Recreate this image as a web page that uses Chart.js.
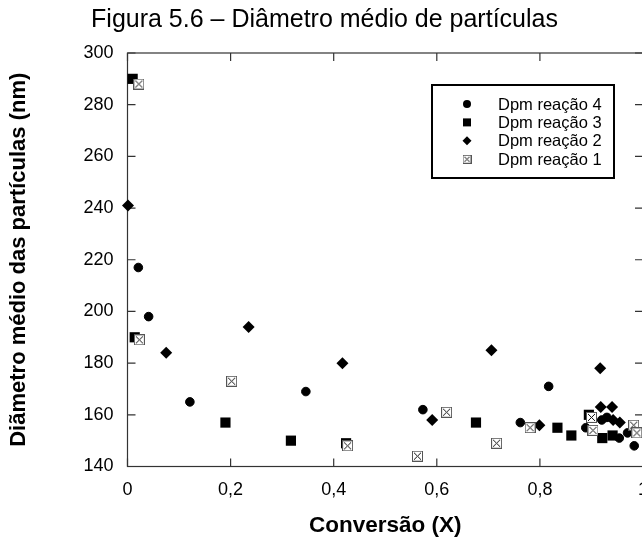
<!DOCTYPE html>
<html>
<head>
<meta charset="utf-8">
<title>Diâmetro médio de partículas</title>
<script src="https://cdn.jsdelivr.net/npm/chart.js@4.4.1/dist/chart.umd.min.js"></script>
<style>
  html, body { margin: 0; padding: 0; background: #fff; }
  #wrap { width: 642px; height: 539px; overflow: hidden; }
</style>
</head>
<body>
<div id="wrap"><canvas id="dpmChart" width="700" height="539"></canvas></div>
<script>
// Conversão (X) vs diâmetro médio (nm) for each reaction
const r4X = [0.021, 0.041, 0.121, 0.346, 0.573, 0.762, 0.817, 0.889, 0.920, 0.930, 0.954, 0.970, 0.983];
const r4Y = [217, 198, 165, 169, 162, 157, 171, 155, 158, 159, 151, 153, 148];

const r3X = [0.010, 0.014, 0.190, 0.317, 0.424, 0.676, 0.834, 0.861, 0.895, 0.921, 0.941];
const r3Y = [290, 190, 157, 150, 149, 157, 155, 152, 160, 151, 152];

const r2X = [0.001, 0.075, 0.235, 0.417, 0.591, 0.706, 0.799, 0.917, 0.918, 0.940, 0.942, 0.955];
const r2Y = [241, 184, 194, 180, 158, 185, 156, 178, 163, 163, 158, 157];

const r1X = [0.022, 0.023, 0.202, 0.427, 0.5625, 0.619, 0.716, 0.781, 0.900, 0.903, 0.982, 0.988];
const r1Y = [288, 189, 173, 148, 144, 161, 149, 155, 159, 154, 156, 153];

const seriesLabels = ['Dpm reação 4', 'Dpm reação 3', 'Dpm reação 2', 'Dpm reação 1'];
const xTicks = [0, 0.2, 0.4, 0.6, 0.8, 1];
const yTicks = [140, 160, 180, 200, 220, 240, 260, 280, 300];

Chart.defaults.font.family = "'Liberation Sans', Arial, sans-serif";
Chart.defaults.color = '#000';

function pts(xs, ys) {
    return xs.map((x, i) => ({ x: x, y: ys[i] }));
}

// white square with an X, used as the marker of reação 1
function makeCrossBox(size) {
    const c = document.createElement('canvas');
    c.width = size; c.height = size;
    const g = c.getContext('2d');
    g.fillStyle = '#fff';
    g.fillRect(0, 0, size, size);
    g.strokeStyle = '#555';
    g.lineWidth = 1;
    g.strokeRect(0.5, 0.5, size - 1, size - 1);
    g.strokeStyle = '#111';
    g.beginPath();
    g.moveTo(2, 2); g.lineTo(size - 2, size - 2);
    g.moveTo(size - 2, 2); g.lineTo(2, size - 2);
    g.stroke();
    return c;
}
const crossBox = makeCrossBox(11);
const crossBoxSmall = makeCrossBox(9);

const TICK_LEN = 8;

// box border and inward tick marks on all four sides
const framePlugin = {
    id: 'frame',
    beforeDatasetsDraw(chart) {
        const { ctx, chartArea: a, scales } = chart;
        ctx.save();
        ctx.strokeStyle = '#333';
        ctx.lineWidth = 1.2;
        ctx.strokeRect(a.left, a.top, a.right - a.left, a.bottom - a.top);
        ctx.beginPath();
        xTicks.forEach(v => {
            const px = scales.x.getPixelForValue(v);
            ctx.moveTo(px, a.bottom); ctx.lineTo(px, a.bottom - TICK_LEN);
            ctx.moveTo(px, a.top); ctx.lineTo(px, a.top + TICK_LEN);
        });
        yTicks.forEach(v => {
            const py = scales.y.getPixelForValue(v);
            ctx.moveTo(a.left, py); ctx.lineTo(a.left + TICK_LEN, py);
            ctx.moveTo(a.right, py); ctx.lineTo(a.right - TICK_LEN, py);
        });
        ctx.stroke();
        ctx.restore();
    }
};

// boxed legend in the upper right of the plot
const boxLegendPlugin = {
    id: 'boxLegend',
    afterDraw(chart) {
        const { ctx } = chart;
        const left = 432, top = 85, w = 182, h = 93;
        const markX = 467, textX = 498, rowY = 104, rowGap = 18.4;
        ctx.save();
        ctx.fillStyle = '#fff';
        ctx.fillRect(left, top, w, h);
        ctx.strokeStyle = '#000';
        ctx.lineWidth = 2;
        ctx.strokeRect(left, top, w, h);
        ctx.font = "16.5px 'Liberation Sans', Arial, sans-serif";
        ctx.textBaseline = 'middle';
        ctx.textAlign = 'left';
        chart.data.datasets.forEach((ds, i) => {
            const y = rowY + i * rowGap;
            ctx.fillStyle = '#000';
            ctx.beginPath();
            if (ds.pointStyle === 'circle') {
                ctx.arc(markX, y, 4, 0, Math.PI * 2);
                ctx.fill();
            } else if (ds.pointStyle === 'rect') {
                ctx.fillRect(markX - 4, y - 4, 8, 8);
            } else if (ds.pointStyle === 'rectRot') {
                ctx.moveTo(markX, y - 4.5); ctx.lineTo(markX + 4.5, y);
                ctx.lineTo(markX, y + 4.5); ctx.lineTo(markX - 4.5, y);
                ctx.closePath();
                ctx.fill();
            } else {
                ctx.drawImage(crossBoxSmall, markX - 4.5, y - 4.5);
            }
            ctx.fillText(ds.label, textX, y + 1);
        });
        ctx.restore();
    }
};

function fmtX(v) {
    if (v === 0 || v === 1) return String(v);
    return v.toFixed(1).replace('.', ',');
}

new Chart(document.getElementById('dpmChart'), {
    type: 'scatter',
    data: {
        datasets: [
            { label: seriesLabels[0], data: pts(r4X, r4Y), pointStyle: 'circle', pointRadius: 4.3,
              pointBorderWidth: 1, backgroundColor: '#000', borderColor: '#000', order: 2, clip: false },
            { label: seriesLabels[1], data: pts(r3X, r3Y), pointStyle: 'rect', pointRadius: 7.2,
              pointBorderWidth: 0, backgroundColor: '#000', borderColor: '#000', order: 3, clip: false },
            { label: seriesLabels[2], data: pts(r2X, r2Y), pointStyle: 'rectRot', pointRadius: 6,
              pointBorderWidth: 0, backgroundColor: '#000', borderColor: '#000', order: 1, clip: false },
            { label: seriesLabels[3], data: pts(r1X, r1Y), pointStyle: crossBox, pointRadius: 5,
              pointBorderWidth: 0, backgroundColor: '#fff', borderColor: '#333', order: 0, clip: false }
        ]
    },
    options: {
        responsive: false,
        animation: false,
        layout: { padding: { left: 6, right: 57, top: 0, bottom: 0 } },
        plugins: {
            legend: { display: false },
            tooltip: { enabled: false },
            title: {
                display: true,
                text: 'Figura 5.6 – Diâmetro médio de partículas',
                color: '#000',
                font: { size: 25, weight: 'normal' },
                padding: { top: 5, bottom: 18 }
            }
        },
        scales: {
            x: {
                type: 'linear',
                min: 0, max: 1,
                grid: { display: false, drawTicks: false },
                border: { display: false },
                afterBuildTicks: s => { s.ticks = xTicks.map(v => ({ value: v })); },
                ticks: { padding: 13, maxRotation: 0, font: { size: 18 }, callback: fmtX },
                title: { display: true, text: 'Conversão (X)', font: { size: 22.5, weight: 'bold' }, padding: 0 },
                afterFit: s => { s.height = 539 - 466.5; }
            },
            y: {
                type: 'linear',
                min: 140, max: 300,
                grid: { display: false, drawTicks: false },
                border: { display: false },
                afterBuildTicks: s => { s.ticks = yTicks.map(v => ({ value: v })); },
                ticks: { padding: 14, font: { size: 18 } },
                title: { display: true, text: 'Diãmetro médio das partículas (nm)',
                         font: { size: 22, weight: 'bold' }, padding: { top: 0, bottom: 0 } },
                afterFit: s => { s.width = 121.5; }
            }
        }
    },
    plugins: [framePlugin, boxLegendPlugin]
});
</script>
</body>
</html>
